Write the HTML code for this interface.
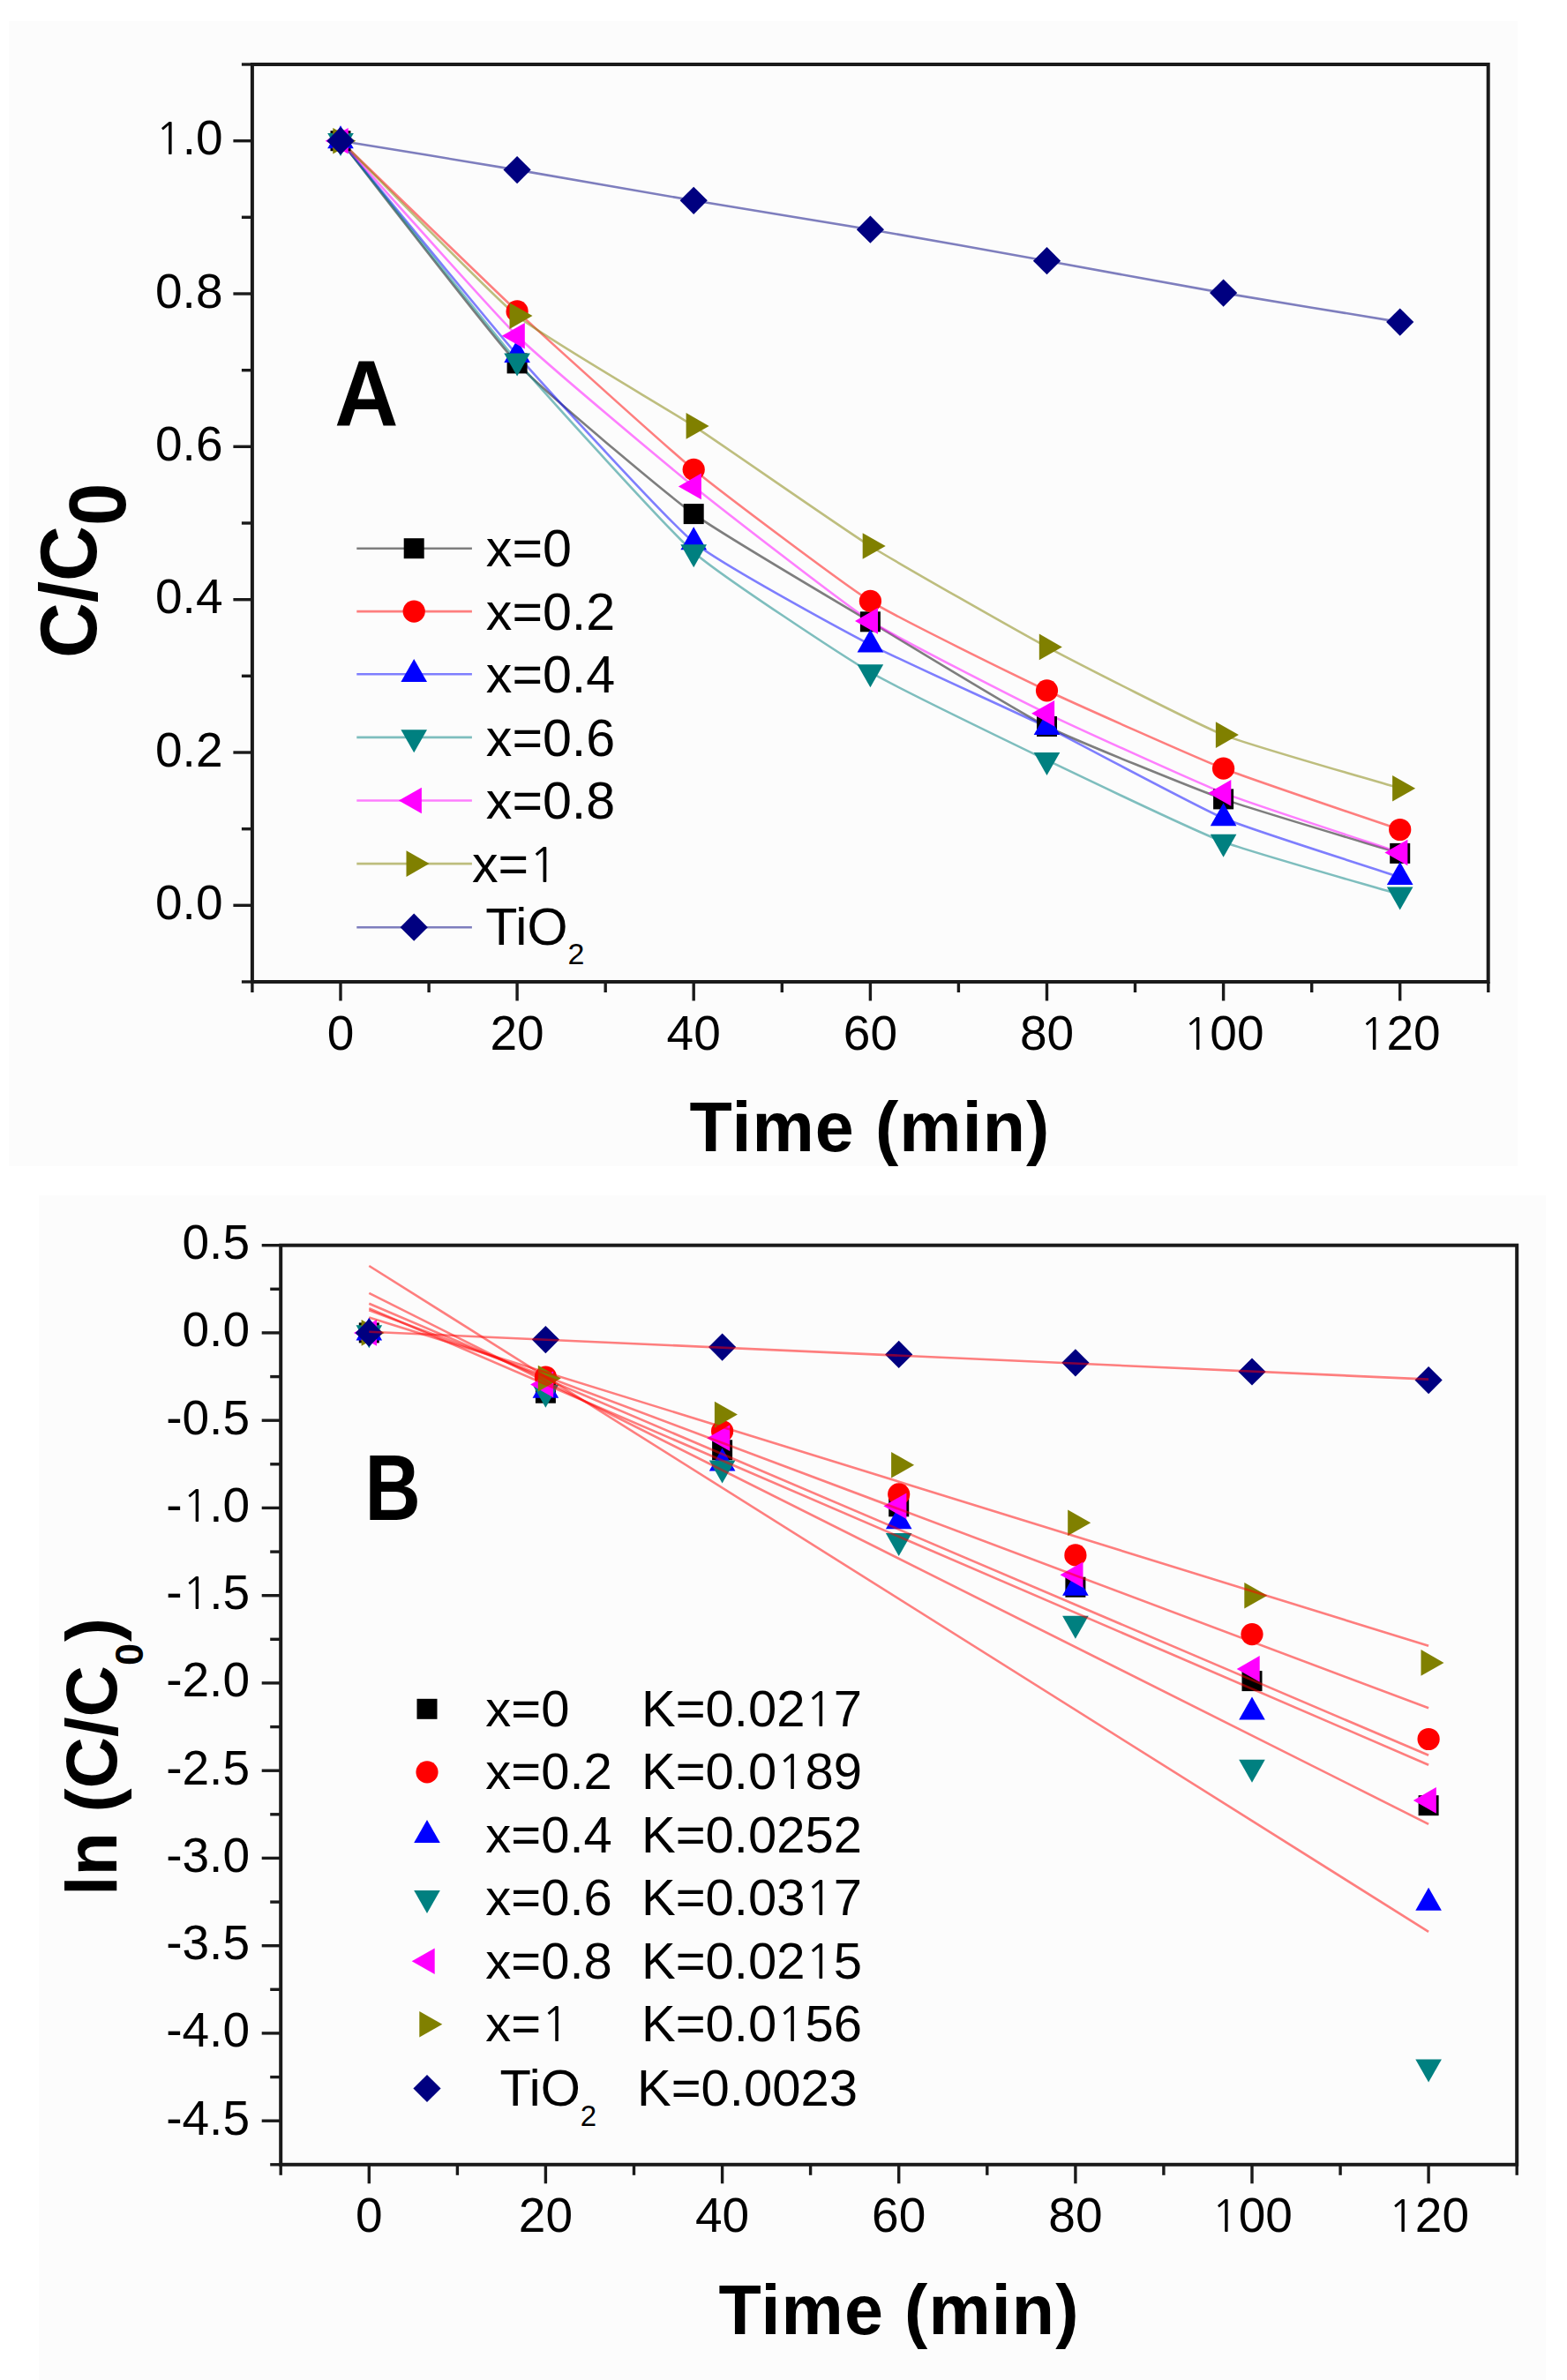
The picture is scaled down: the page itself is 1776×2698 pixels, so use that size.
<!DOCTYPE html><html><head><meta charset="utf-8"><title>C/C0 vs Time</title><style>html,body{margin:0;padding:0;background:#fff;}svg{display:block;}text{font-family:"Liberation Sans", Arial, sans-serif;fill:#000;}</style></head><body>
<svg width="1776" height="2698" viewBox="0 0 1776 2698">
<rect x="0" y="0" width="1776" height="2698" fill="#ffffff"/>
<rect x="10" y="24" width="1710" height="1298" fill="#fcfcfc"/>
<rect x="44" y="1355" width="1708" height="1343" fill="#fcfcfc"/>
<path d="M386.0,159.7 C416.0,197.5 556.1,380.1 586.1,411.9 C616.1,443.6 756.2,560.6 786.2,582.6 C816.3,604.6 956.3,686.7 986.4,704.8 C1016.4,722.9 1156.5,808.5 1186.5,823.5 C1216.5,838.6 1356.6,895.1 1386.6,905.9 C1416.6,916.7 1556.7,958.2 1586.7,967.4" fill="none" stroke="#000000" stroke-opacity="0.5" stroke-width="2.6"/>
<path d="M386.0,159.7 C416.0,188.7 556.1,325.0 586.1,352.9 C616.1,380.9 756.2,507.7 786.2,532.3 C816.3,557.0 956.3,662.6 986.4,681.4 C1016.4,700.2 1156.5,768.6 1186.5,782.8 C1216.5,797.0 1356.6,859.4 1386.6,871.2 C1416.6,883.0 1556.7,930.1 1586.7,940.5" fill="none" stroke="#ff0000" stroke-opacity="0.5" stroke-width="2.6"/>
<path d="M386.0,159.7 C416.0,196.1 556.1,368.2 586.1,402.3 C616.1,436.5 756.2,590.0 786.2,614.7 C816.3,639.3 956.3,715.1 986.4,730.8 C1016.4,746.5 1156.5,809.6 1186.5,824.4 C1216.5,839.2 1356.6,914.8 1386.6,927.5 C1416.6,940.3 1556.7,984.3 1586.7,994.3" fill="none" stroke="#0000ff" stroke-opacity="0.5" stroke-width="2.6"/>
<path d="M386.0,159.7 C416.0,197.1 556.1,374.3 586.1,409.3 C616.1,444.2 756.2,599.5 786.2,625.9 C816.3,652.4 956.3,744.3 986.4,762.0 C1016.4,779.7 1156.5,847.2 1186.5,861.7 C1216.5,876.1 1356.6,943.0 1386.6,954.4 C1416.6,965.8 1556.7,1005.2 1586.7,1014.2" fill="none" stroke="#008080" stroke-opacity="0.5" stroke-width="2.6"/>
<path d="M386.0,159.7 C416.0,192.8 556.1,351.3 586.1,380.7 C616.1,410.0 756.2,527.2 786.2,551.4 C816.3,575.6 956.3,684.6 986.4,703.9 C1016.4,723.2 1156.5,794.2 1186.5,808.8 C1216.5,823.4 1356.6,887.1 1386.6,898.9 C1416.6,910.8 1556.7,956.4 1586.7,966.5" fill="none" stroke="#ff00ff" stroke-opacity="0.5" stroke-width="2.6"/>
<path d="M386.0,159.7 C416.0,189.4 556.1,333.9 586.1,358.1 C616.1,382.4 756.2,463.4 786.2,482.9 C816.3,502.5 956.3,600.2 986.4,619.0 C1016.4,637.8 1156.5,717.3 1186.5,733.4 C1216.5,749.5 1356.6,821.0 1386.6,833.1 C1416.6,845.1 1556.7,884.6 1586.7,893.7" fill="none" stroke="#808000" stroke-opacity="0.5" stroke-width="2.6"/>
<path d="M386.0,159.7 C416.0,164.6 556.1,187.5 586.1,192.6 C616.1,197.7 756.2,222.2 786.2,227.3 C816.3,232.3 956.3,255.1 986.4,260.2 C1016.4,265.3 1156.5,290.3 1186.5,295.7 C1216.5,301.1 1356.6,326.9 1386.6,332.1 C1416.6,337.3 1556.7,360.1 1586.7,365.1" fill="none" stroke="#000080" stroke-opacity="0.5" stroke-width="2.6"/>
<rect x="374.5" y="148.2" width="23.0" height="23.0" fill="#000000"/>
<rect x="574.6" y="400.4" width="23.0" height="23.0" fill="#000000"/>
<rect x="774.7" y="571.1" width="23.0" height="23.0" fill="#000000"/>
<rect x="974.9" y="693.3" width="23.0" height="23.0" fill="#000000"/>
<rect x="1175.0" y="812.0" width="23.0" height="23.0" fill="#000000"/>
<rect x="1375.1" y="894.4" width="23.0" height="23.0" fill="#000000"/>
<rect x="1575.2" y="955.9" width="23.0" height="23.0" fill="#000000"/>
<circle cx="386.0" cy="159.7" r="12.6" fill="#ff0000"/>
<circle cx="586.1" cy="352.9" r="12.6" fill="#ff0000"/>
<circle cx="786.2" cy="532.3" r="12.6" fill="#ff0000"/>
<circle cx="986.4" cy="681.4" r="12.6" fill="#ff0000"/>
<circle cx="1186.5" cy="782.8" r="12.6" fill="#ff0000"/>
<circle cx="1386.6" cy="871.2" r="12.6" fill="#ff0000"/>
<circle cx="1586.7" cy="940.5" r="12.6" fill="#ff0000"/>
<polygon points="386.0,142.3 400.8,168.3 371.2,168.3" fill="#0000ff"/>
<polygon points="586.1,385.0 600.9,411.0 571.3,411.0" fill="#0000ff"/>
<polygon points="786.2,597.3 801.0,623.3 771.4,623.3" fill="#0000ff"/>
<polygon points="986.4,713.5 1001.2,739.5 971.6,739.5" fill="#0000ff"/>
<polygon points="1186.5,807.1 1201.3,833.1 1171.7,833.1" fill="#0000ff"/>
<polygon points="1386.6,910.2 1401.4,936.2 1371.8,936.2" fill="#0000ff"/>
<polygon points="1586.7,976.9 1601.5,1002.9 1571.9,1002.9" fill="#0000ff"/>
<polygon points="386.0,177.0 400.8,151.0 371.2,151.0" fill="#008080"/>
<polygon points="586.1,426.6 600.9,400.6 571.3,400.6" fill="#008080"/>
<polygon points="786.2,643.3 801.0,617.3 771.4,617.3" fill="#008080"/>
<polygon points="986.4,779.3 1001.2,753.3 971.6,753.3" fill="#008080"/>
<polygon points="1186.5,879.0 1201.3,853.0 1171.7,853.0" fill="#008080"/>
<polygon points="1386.6,971.7 1401.4,945.7 1371.8,945.7" fill="#008080"/>
<polygon points="1586.7,1031.5 1601.5,1005.5 1571.9,1005.5" fill="#008080"/>
<polygon points="368.7,159.7 394.7,144.9 394.7,174.5" fill="#ff00ff"/>
<polygon points="568.8,380.7 594.8,365.9 594.8,395.5" fill="#ff00ff"/>
<polygon points="768.9,551.4 794.9,536.6 794.9,566.2" fill="#ff00ff"/>
<polygon points="969.0,703.9 995.0,689.1 995.0,718.7" fill="#ff00ff"/>
<polygon points="1169.1,808.8 1195.1,794.0 1195.1,823.6" fill="#ff00ff"/>
<polygon points="1369.3,898.9 1395.3,884.1 1395.3,913.7" fill="#ff00ff"/>
<polygon points="1569.4,966.5 1595.4,951.7 1595.4,981.3" fill="#ff00ff"/>
<polygon points="403.3,159.7 377.3,144.9 377.3,174.5" fill="#808000"/>
<polygon points="603.5,358.1 577.5,343.3 577.5,372.9" fill="#808000"/>
<polygon points="803.6,482.9 777.6,468.1 777.6,497.7" fill="#808000"/>
<polygon points="1003.7,619.0 977.7,604.2 977.7,633.8" fill="#808000"/>
<polygon points="1203.8,733.4 1177.8,718.6 1177.8,748.2" fill="#808000"/>
<polygon points="1403.9,833.1 1377.9,818.3 1377.9,847.9" fill="#808000"/>
<polygon points="1604.1,893.7 1578.1,878.9 1578.1,908.5" fill="#808000"/>
<polygon points="386.0,144.1 401.6,159.7 386.0,175.3 370.4,159.7" fill="#000080"/>
<polygon points="586.1,177.0 601.7,192.6 586.1,208.2 570.5,192.6" fill="#000080"/>
<polygon points="786.2,211.7 801.8,227.3 786.2,242.9 770.6,227.3" fill="#000080"/>
<polygon points="986.4,244.6 1002.0,260.2 986.4,275.8 970.8,260.2" fill="#000080"/>
<polygon points="1186.5,280.1 1202.1,295.7 1186.5,311.3 1170.9,295.7" fill="#000080"/>
<polygon points="1386.6,316.5 1402.2,332.1 1386.6,347.7 1371.0,332.1" fill="#000080"/>
<polygon points="1586.7,349.5 1602.3,365.1 1586.7,380.7 1571.1,365.1" fill="#000080"/>
<rect x="285.9" y="73.0" width="1400.8" height="1040.0" fill="none" stroke="#1a1a1a" stroke-width="4.0"/>
<line x1="264.4" y1="1026.3" x2="285.9" y2="1026.3" stroke="#1a1a1a" stroke-width="3.4"/>
<line x1="264.4" y1="853.0" x2="285.9" y2="853.0" stroke="#1a1a1a" stroke-width="3.4"/>
<line x1="264.4" y1="679.7" x2="285.9" y2="679.7" stroke="#1a1a1a" stroke-width="3.4"/>
<line x1="264.4" y1="506.3" x2="285.9" y2="506.3" stroke="#1a1a1a" stroke-width="3.4"/>
<line x1="264.4" y1="333.0" x2="285.9" y2="333.0" stroke="#1a1a1a" stroke-width="3.4"/>
<line x1="264.4" y1="159.7" x2="285.9" y2="159.7" stroke="#1a1a1a" stroke-width="3.4"/>
<line x1="273.9" y1="1113.0" x2="285.9" y2="1113.0" stroke="#1a1a1a" stroke-width="3.4"/>
<line x1="273.9" y1="939.7" x2="285.9" y2="939.7" stroke="#1a1a1a" stroke-width="3.4"/>
<line x1="273.9" y1="766.3" x2="285.9" y2="766.3" stroke="#1a1a1a" stroke-width="3.4"/>
<line x1="273.9" y1="593.0" x2="285.9" y2="593.0" stroke="#1a1a1a" stroke-width="3.4"/>
<line x1="273.9" y1="419.7" x2="285.9" y2="419.7" stroke="#1a1a1a" stroke-width="3.4"/>
<line x1="273.9" y1="246.3" x2="285.9" y2="246.3" stroke="#1a1a1a" stroke-width="3.4"/>
<line x1="273.9" y1="73.0" x2="285.9" y2="73.0" stroke="#1a1a1a" stroke-width="3.4"/>
<line x1="386.0" y1="1113.0" x2="386.0" y2="1134.5" stroke="#1a1a1a" stroke-width="3.4"/>
<line x1="586.1" y1="1113.0" x2="586.1" y2="1134.5" stroke="#1a1a1a" stroke-width="3.4"/>
<line x1="786.2" y1="1113.0" x2="786.2" y2="1134.5" stroke="#1a1a1a" stroke-width="3.4"/>
<line x1="986.4" y1="1113.0" x2="986.4" y2="1134.5" stroke="#1a1a1a" stroke-width="3.4"/>
<line x1="1186.5" y1="1113.0" x2="1186.5" y2="1134.5" stroke="#1a1a1a" stroke-width="3.4"/>
<line x1="1386.6" y1="1113.0" x2="1386.6" y2="1134.5" stroke="#1a1a1a" stroke-width="3.4"/>
<line x1="1586.7" y1="1113.0" x2="1586.7" y2="1134.5" stroke="#1a1a1a" stroke-width="3.4"/>
<line x1="285.9" y1="1113.0" x2="285.9" y2="1125.0" stroke="#1a1a1a" stroke-width="3.4"/>
<line x1="486.1" y1="1113.0" x2="486.1" y2="1125.0" stroke="#1a1a1a" stroke-width="3.4"/>
<line x1="686.2" y1="1113.0" x2="686.2" y2="1125.0" stroke="#1a1a1a" stroke-width="3.4"/>
<line x1="886.3" y1="1113.0" x2="886.3" y2="1125.0" stroke="#1a1a1a" stroke-width="3.4"/>
<line x1="1086.4" y1="1113.0" x2="1086.4" y2="1125.0" stroke="#1a1a1a" stroke-width="3.4"/>
<line x1="1286.5" y1="1113.0" x2="1286.5" y2="1125.0" stroke="#1a1a1a" stroke-width="3.4"/>
<line x1="1486.7" y1="1113.0" x2="1486.7" y2="1125.0" stroke="#1a1a1a" stroke-width="3.4"/>
<line x1="1686.8" y1="1113.0" x2="1686.8" y2="1125.0" stroke="#1a1a1a" stroke-width="3.4"/>
<text x="252.5" y="1041.8" font-size="55" text-anchor="end">0.0</text>
<text x="252.5" y="868.5" font-size="55" text-anchor="end">0.2</text>
<text x="252.5" y="695.2" font-size="55" text-anchor="end">0.4</text>
<text x="252.5" y="521.8" font-size="55" text-anchor="end">0.6</text>
<text x="252.5" y="348.5" font-size="55" text-anchor="end">0.8</text>
<text x="252.5" y="175.2" font-size="55" text-anchor="end"><tspan font-family="NanumGothic, 'Liberation Sans', sans-serif" font-size="50.49">1</tspan>.0</text>
<text x="386.0" y="1190.0" font-size="55" text-anchor="middle">0</text>
<text x="586.1" y="1190.0" font-size="55" text-anchor="middle">20</text>
<text x="786.2" y="1190.0" font-size="55" text-anchor="middle">40</text>
<text x="986.4" y="1190.0" font-size="55" text-anchor="middle">60</text>
<text x="1186.5" y="1190.0" font-size="55" text-anchor="middle">80</text>
<text x="1386.6" y="1190.0" font-size="55" text-anchor="middle"><tspan font-family="NanumGothic, 'Liberation Sans', sans-serif" font-size="50.49">1</tspan>00</text>
<text x="1586.7" y="1190.0" font-size="55" text-anchor="middle"><tspan font-family="NanumGothic, 'Liberation Sans', sans-serif" font-size="50.49">1</tspan>20</text>
<text x="781.5" y="1305.2" font-size="79" font-weight="bold" text-anchor="start" letter-spacing="1.1">Time (min)</text>
<text transform="translate(379.2,482.6) scale(0.99,1.05)" font-size="101" font-weight="bold">A</text>
<text transform="translate(109.3,746) rotate(-90) scale(0.99,1.035)" font-size="88" font-weight="bold">C/C<tspan dy="32">0</tspan></text>
<line x1="404.3" y1="621.7" x2="534.9" y2="621.7" stroke="#000000" stroke-opacity="0.5" stroke-width="2.6"/>
<rect x="457.7" y="610.2" width="23.0" height="23.0" fill="#000000"/>
<text x="550.8" y="642.3" font-size="59.2" text-anchor="start">x=0</text>
<line x1="404.3" y1="693.1" x2="534.9" y2="693.1" stroke="#ff0000" stroke-opacity="0.5" stroke-width="2.6"/>
<circle cx="469.2" cy="693.1" r="12.6" fill="#ff0000"/>
<text x="550.8" y="713.7" font-size="59.2" text-anchor="start">x=0.2</text>
<line x1="404.3" y1="764.3" x2="534.9" y2="764.3" stroke="#0000ff" stroke-opacity="0.5" stroke-width="2.6"/>
<polygon points="469.2,747.0 484.0,773.0 454.4,773.0" fill="#0000ff"/>
<text x="550.8" y="784.9" font-size="59.2" text-anchor="start">x=0.4</text>
<line x1="404.3" y1="835.9" x2="534.9" y2="835.9" stroke="#008080" stroke-opacity="0.5" stroke-width="2.6"/>
<polygon points="469.2,853.2 484.0,827.2 454.4,827.2" fill="#008080"/>
<text x="550.8" y="856.5" font-size="59.2" text-anchor="start">x=0.6</text>
<line x1="404.3" y1="907.5" x2="534.9" y2="907.5" stroke="#ff00ff" stroke-opacity="0.5" stroke-width="2.6"/>
<polygon points="451.9,907.5 477.9,892.7 477.9,922.3" fill="#ff00ff"/>
<text x="550.8" y="928.1" font-size="59.2" text-anchor="start">x=0.8</text>
<line x1="404.3" y1="979.1" x2="534.9" y2="979.1" stroke="#808000" stroke-opacity="0.5" stroke-width="2.6"/>
<polygon points="486.5,979.1 460.5,964.3 460.5,993.9" fill="#808000"/>
<text x="535.0" y="999.7" font-size="59.2" text-anchor="start">x=<tspan font-family="NanumGothic, 'Liberation Sans', sans-serif" font-size="54.35">1</tspan></text>
<line x1="404.3" y1="1051.2" x2="534.9" y2="1051.2" stroke="#000080" stroke-opacity="0.5" stroke-width="2.6"/>
<polygon points="469.2,1035.6 484.8,1051.2 469.2,1066.8 453.6,1051.2" fill="#000080"/>
<text x="550.3" y="1071.4" font-size="59.2">TiO<tspan font-size="34" dy="21.8">2</tspan></text>
<rect x="406.8" y="1499.4" width="23.0" height="23.0" fill="#000000"/>
<rect x="606.9" y="1567.7" width="23.0" height="23.0" fill="#000000"/>
<rect x="807.1" y="1632.3" width="23.0" height="23.0" fill="#000000"/>
<rect x="1007.2" y="1696.3" width="23.0" height="23.0" fill="#000000"/>
<rect x="1207.4" y="1787.7" width="23.0" height="23.0" fill="#000000"/>
<rect x="1407.5" y="1894.1" width="23.0" height="23.0" fill="#000000"/>
<rect x="1607.6" y="2035.2" width="23.0" height="23.0" fill="#000000"/>
<circle cx="418.3" cy="1510.9" r="12.6" fill="#ff0000"/>
<circle cx="618.4" cy="1561.0" r="12.6" fill="#ff0000"/>
<circle cx="818.6" cy="1622.5" r="12.6" fill="#ff0000"/>
<circle cx="1018.7" cy="1693.8" r="12.6" fill="#ff0000"/>
<circle cx="1218.9" cy="1762.9" r="12.6" fill="#ff0000"/>
<circle cx="1419.0" cy="1852.6" r="12.6" fill="#ff0000"/>
<circle cx="1619.1" cy="1971.5" r="12.6" fill="#ff0000"/>
<polygon points="418.3,1493.6 433.1,1519.6 403.5,1519.6" fill="#0000ff"/>
<polygon points="618.4,1558.8 633.2,1584.8 603.6,1584.8" fill="#0000ff"/>
<polygon points="818.6,1641.4 833.4,1667.4 803.8,1667.4" fill="#0000ff"/>
<polygon points="1018.7,1707.2 1033.5,1733.2 1003.9,1733.2" fill="#0000ff"/>
<polygon points="1218.9,1782.8 1233.7,1808.8 1204.1,1808.8" fill="#0000ff"/>
<polygon points="1419.0,1923.4 1433.8,1949.4 1404.2,1949.4" fill="#0000ff"/>
<polygon points="1619.1,2139.7 1633.9,2165.7 1604.3,2165.7" fill="#0000ff"/>
<polygon points="418.3,1528.3 433.1,1502.3 403.5,1502.3" fill="#008080"/>
<polygon points="618.4,1595.7 633.2,1569.7 603.6,1569.7" fill="#008080"/>
<polygon points="818.6,1681.6 833.4,1655.6 803.8,1655.6" fill="#008080"/>
<polygon points="1018.7,1764.0 1033.5,1738.0 1003.9,1738.0" fill="#008080"/>
<polygon points="1218.9,1857.8 1233.7,1831.8 1204.1,1831.8" fill="#008080"/>
<polygon points="1419.0,2020.7 1433.8,1994.7 1404.2,1994.7" fill="#008080"/>
<polygon points="1619.1,2360.4 1633.9,2334.4 1604.3,2334.4" fill="#008080"/>
<polygon points="401.0,1510.9 427.0,1496.1 427.0,1525.7" fill="#ff00ff"/>
<polygon points="601.1,1569.4 627.1,1554.6 627.1,1584.2" fill="#ff00ff"/>
<polygon points="801.2,1630.3 827.2,1615.5 827.2,1645.1" fill="#ff00ff"/>
<polygon points="1001.4,1707.2 1027.4,1692.4 1027.4,1722.0" fill="#ff00ff"/>
<polygon points="1201.5,1785.3 1227.5,1770.5 1227.5,1800.1" fill="#ff00ff"/>
<polygon points="1401.7,1891.9 1427.7,1877.1 1427.7,1906.7" fill="#ff00ff"/>
<polygon points="1601.8,2040.9 1627.8,2026.1 1627.8,2055.7" fill="#ff00ff"/>
<polygon points="435.6,1510.9 409.6,1496.1 409.6,1525.7" fill="#808000"/>
<polygon points="635.8,1562.6 609.8,1547.8 609.8,1577.4" fill="#808000"/>
<polygon points="835.9,1603.6 809.9,1588.8 809.9,1618.4" fill="#808000"/>
<polygon points="1036.1,1660.8 1010.1,1646.0 1010.1,1675.6" fill="#808000"/>
<polygon points="1236.2,1726.3 1210.2,1711.5 1210.2,1741.1" fill="#808000"/>
<polygon points="1436.3,1808.7 1410.3,1793.9 1410.3,1823.5" fill="#808000"/>
<polygon points="1636.5,1884.9 1610.5,1870.1 1610.5,1899.7" fill="#808000"/>
<polygon points="418.3,1495.3 433.9,1510.9 418.3,1526.5 402.7,1510.9" fill="#000080"/>
<polygon points="618.4,1503.0 634.0,1518.6 618.4,1534.2 602.8,1518.6" fill="#000080"/>
<polygon points="818.6,1511.5 834.2,1527.1 818.6,1542.7 803.0,1527.1" fill="#000080"/>
<polygon points="1018.7,1519.8 1034.3,1535.4 1018.7,1551.0 1003.1,1535.4" fill="#000080"/>
<polygon points="1218.9,1529.2 1234.5,1544.8 1218.9,1560.4 1203.3,1544.8" fill="#000080"/>
<polygon points="1419.0,1539.4 1434.6,1555.0 1419.0,1570.6 1403.4,1555.0" fill="#000080"/>
<polygon points="1619.1,1549.0 1634.7,1564.6 1619.1,1580.2 1603.5,1564.6" fill="#000080"/>
<line x1="418.3" y1="1483.1" x2="1619.1" y2="2000.7" stroke="#ff0000" stroke-opacity="0.5" stroke-width="2.6"/>
<line x1="418.3" y1="1485.2" x2="1619.1" y2="1936.3" stroke="#ff0000" stroke-opacity="0.5" stroke-width="2.6"/>
<line x1="418.3" y1="1465.9" x2="1619.1" y2="2067.8" stroke="#ff0000" stroke-opacity="0.5" stroke-width="2.6"/>
<line x1="418.3" y1="1435.0" x2="1619.1" y2="2189.9" stroke="#ff0000" stroke-opacity="0.5" stroke-width="2.6"/>
<line x1="418.3" y1="1477.7" x2="1619.1" y2="1989.8" stroke="#ff0000" stroke-opacity="0.5" stroke-width="2.6"/>
<line x1="418.3" y1="1493.6" x2="1619.1" y2="1865.8" stroke="#ff0000" stroke-opacity="0.5" stroke-width="2.6"/>
<line x1="418.3" y1="1509.7" x2="1619.1" y2="1563.6" stroke="#ff0000" stroke-opacity="0.5" stroke-width="2.6"/>
<rect x="318.2" y="1411.7" width="1401.0" height="1042.1" fill="none" stroke="#1a1a1a" stroke-width="4.0"/>
<line x1="296.7" y1="1411.7" x2="318.2" y2="1411.7" stroke="#1a1a1a" stroke-width="3.4"/>
<line x1="296.7" y1="1510.9" x2="318.2" y2="1510.9" stroke="#1a1a1a" stroke-width="3.4"/>
<line x1="296.7" y1="1610.2" x2="318.2" y2="1610.2" stroke="#1a1a1a" stroke-width="3.4"/>
<line x1="296.7" y1="1709.4" x2="318.2" y2="1709.4" stroke="#1a1a1a" stroke-width="3.4"/>
<line x1="296.7" y1="1808.7" x2="318.2" y2="1808.7" stroke="#1a1a1a" stroke-width="3.4"/>
<line x1="296.7" y1="1907.9" x2="318.2" y2="1907.9" stroke="#1a1a1a" stroke-width="3.4"/>
<line x1="296.7" y1="2007.2" x2="318.2" y2="2007.2" stroke="#1a1a1a" stroke-width="3.4"/>
<line x1="296.7" y1="2106.4" x2="318.2" y2="2106.4" stroke="#1a1a1a" stroke-width="3.4"/>
<line x1="296.7" y1="2205.7" x2="318.2" y2="2205.7" stroke="#1a1a1a" stroke-width="3.4"/>
<line x1="296.7" y1="2304.9" x2="318.2" y2="2304.9" stroke="#1a1a1a" stroke-width="3.4"/>
<line x1="296.7" y1="2404.2" x2="318.2" y2="2404.2" stroke="#1a1a1a" stroke-width="3.4"/>
<line x1="306.2" y1="1461.3" x2="318.2" y2="1461.3" stroke="#1a1a1a" stroke-width="3.4"/>
<line x1="306.2" y1="1560.6" x2="318.2" y2="1560.6" stroke="#1a1a1a" stroke-width="3.4"/>
<line x1="306.2" y1="1659.8" x2="318.2" y2="1659.8" stroke="#1a1a1a" stroke-width="3.4"/>
<line x1="306.2" y1="1759.1" x2="318.2" y2="1759.1" stroke="#1a1a1a" stroke-width="3.4"/>
<line x1="306.2" y1="1858.3" x2="318.2" y2="1858.3" stroke="#1a1a1a" stroke-width="3.4"/>
<line x1="306.2" y1="1957.6" x2="318.2" y2="1957.6" stroke="#1a1a1a" stroke-width="3.4"/>
<line x1="306.2" y1="2056.8" x2="318.2" y2="2056.8" stroke="#1a1a1a" stroke-width="3.4"/>
<line x1="306.2" y1="2156.1" x2="318.2" y2="2156.1" stroke="#1a1a1a" stroke-width="3.4"/>
<line x1="306.2" y1="2255.3" x2="318.2" y2="2255.3" stroke="#1a1a1a" stroke-width="3.4"/>
<line x1="306.2" y1="2354.6" x2="318.2" y2="2354.6" stroke="#1a1a1a" stroke-width="3.4"/>
<line x1="306.2" y1="2453.8" x2="318.2" y2="2453.8" stroke="#1a1a1a" stroke-width="3.4"/>
<line x1="418.3" y1="2453.8" x2="418.3" y2="2475.3" stroke="#1a1a1a" stroke-width="3.4"/>
<line x1="618.4" y1="2453.8" x2="618.4" y2="2475.3" stroke="#1a1a1a" stroke-width="3.4"/>
<line x1="818.6" y1="2453.8" x2="818.6" y2="2475.3" stroke="#1a1a1a" stroke-width="3.4"/>
<line x1="1018.7" y1="2453.8" x2="1018.7" y2="2475.3" stroke="#1a1a1a" stroke-width="3.4"/>
<line x1="1218.9" y1="2453.8" x2="1218.9" y2="2475.3" stroke="#1a1a1a" stroke-width="3.4"/>
<line x1="1419.0" y1="2453.8" x2="1419.0" y2="2475.3" stroke="#1a1a1a" stroke-width="3.4"/>
<line x1="1619.1" y1="2453.8" x2="1619.1" y2="2475.3" stroke="#1a1a1a" stroke-width="3.4"/>
<line x1="318.2" y1="2453.8" x2="318.2" y2="2465.8" stroke="#1a1a1a" stroke-width="3.4"/>
<line x1="518.4" y1="2453.8" x2="518.4" y2="2465.8" stroke="#1a1a1a" stroke-width="3.4"/>
<line x1="718.5" y1="2453.8" x2="718.5" y2="2465.8" stroke="#1a1a1a" stroke-width="3.4"/>
<line x1="918.6" y1="2453.8" x2="918.6" y2="2465.8" stroke="#1a1a1a" stroke-width="3.4"/>
<line x1="1118.8" y1="2453.8" x2="1118.8" y2="2465.8" stroke="#1a1a1a" stroke-width="3.4"/>
<line x1="1318.9" y1="2453.8" x2="1318.9" y2="2465.8" stroke="#1a1a1a" stroke-width="3.4"/>
<line x1="1519.1" y1="2453.8" x2="1519.1" y2="2465.8" stroke="#1a1a1a" stroke-width="3.4"/>
<line x1="1719.2" y1="2453.8" x2="1719.2" y2="2465.8" stroke="#1a1a1a" stroke-width="3.4"/>
<text x="283.0" y="1427.2" font-size="55" text-anchor="end">0.5</text>
<text x="283.0" y="1526.4" font-size="55" text-anchor="end">0.0</text>
<text x="283.0" y="1625.7" font-size="55" text-anchor="end">-0.5</text>
<text x="283.0" y="1724.9" font-size="55" text-anchor="end">-<tspan font-family="NanumGothic, 'Liberation Sans', sans-serif" font-size="50.49">1</tspan>.0</text>
<text x="283.0" y="1824.2" font-size="55" text-anchor="end">-<tspan font-family="NanumGothic, 'Liberation Sans', sans-serif" font-size="50.49">1</tspan>.5</text>
<text x="283.0" y="1923.4" font-size="55" text-anchor="end">-2.0</text>
<text x="283.0" y="2022.7" font-size="55" text-anchor="end">-2.5</text>
<text x="283.0" y="2121.9" font-size="55" text-anchor="end">-3.0</text>
<text x="283.0" y="2221.2" font-size="55" text-anchor="end">-3.5</text>
<text x="283.0" y="2320.4" font-size="55" text-anchor="end">-4.0</text>
<text x="283.0" y="2419.7" font-size="55" text-anchor="end">-4.5</text>
<text x="418.3" y="2529.8" font-size="55" text-anchor="middle">0</text>
<text x="618.4" y="2529.8" font-size="55" text-anchor="middle">20</text>
<text x="818.6" y="2529.8" font-size="55" text-anchor="middle">40</text>
<text x="1018.7" y="2529.8" font-size="55" text-anchor="middle">60</text>
<text x="1218.9" y="2529.8" font-size="55" text-anchor="middle">80</text>
<text x="1419.0" y="2529.8" font-size="55" text-anchor="middle"><tspan font-family="NanumGothic, 'Liberation Sans', sans-serif" font-size="50.49">1</tspan>00</text>
<text x="1619.1" y="2529.8" font-size="55" text-anchor="middle"><tspan font-family="NanumGothic, 'Liberation Sans', sans-serif" font-size="50.49">1</tspan>20</text>
<text x="814.6" y="2645.8" font-size="79" font-weight="bold" text-anchor="start" letter-spacing="1.1">Time (min)</text>
<text transform="translate(420.0,1722.6) scale(0.868,1.04)" font-size="101" font-weight="bold" x="-7.4">B</text>
<text transform="translate(132.3,2149) rotate(-90)" font-size="81" font-weight="bold">ln (C/C<tspan font-size="45" dy="30">0</tspan><tspan dy="-30" dx="2">)</tspan></text>
<rect x="472.5" y="1925.8" width="23.0" height="23.0" fill="#000000"/>
<text x="550.3" y="1956.8" font-size="58" text-anchor="start">x=0</text>
<text x="727.0" y="1956.8" font-size="58" text-anchor="start">K=0.02<tspan font-family="NanumGothic, 'Liberation Sans', sans-serif" font-size="53.24">1</tspan>7</text>
<circle cx="484.0" cy="2008.8" r="12.6" fill="#ff0000"/>
<text x="550.3" y="2028.3" font-size="58" text-anchor="start">x=0.2</text>
<text x="727.0" y="2028.3" font-size="58" text-anchor="start">K=0.0<tspan font-family="NanumGothic, 'Liberation Sans', sans-serif" font-size="53.24">1</tspan>89</text>
<polygon points="484.0,2063.0 498.8,2089.0 469.2,2089.0" fill="#0000ff"/>
<text x="550.3" y="2099.8" font-size="58" text-anchor="start">x=0.4</text>
<text x="727.0" y="2099.8" font-size="58" text-anchor="start">K=0.0252</text>
<polygon points="484.0,2169.1 498.8,2143.1 469.2,2143.1" fill="#008080"/>
<text x="550.3" y="2171.3" font-size="58" text-anchor="start">x=0.6</text>
<text x="727.0" y="2171.3" font-size="58" text-anchor="start">K=0.03<tspan font-family="NanumGothic, 'Liberation Sans', sans-serif" font-size="53.24">1</tspan>7</text>
<polygon points="466.7,2223.3 492.7,2208.5 492.7,2238.1" fill="#ff00ff"/>
<text x="550.3" y="2242.8" font-size="58" text-anchor="start">x=0.8</text>
<text x="727.0" y="2242.8" font-size="58" text-anchor="start">K=0.02<tspan font-family="NanumGothic, 'Liberation Sans', sans-serif" font-size="53.24">1</tspan>5</text>
<polygon points="501.3,2294.8 475.3,2280.0 475.3,2309.6" fill="#808000"/>
<text x="550.3" y="2314.3" font-size="58" text-anchor="start">x=<tspan font-family="NanumGothic, 'Liberation Sans', sans-serif" font-size="53.24">1</tspan></text>
<text x="727.0" y="2314.3" font-size="58" text-anchor="start">K=0.0<tspan font-family="NanumGothic, 'Liberation Sans', sans-serif" font-size="53.24">1</tspan>56</text>
<polygon points="484.0,2351.9 499.6,2367.5 484.0,2383.1 468.4,2367.5" fill="#000080"/>
<text x="566.5" y="2387.0" font-size="58">TiO<tspan font-size="33" dy="22.5">2</tspan></text>
<text x="722.0" y="2387.0" font-size="58" text-anchor="start">K=0.0023</text>
</svg></body></html>
